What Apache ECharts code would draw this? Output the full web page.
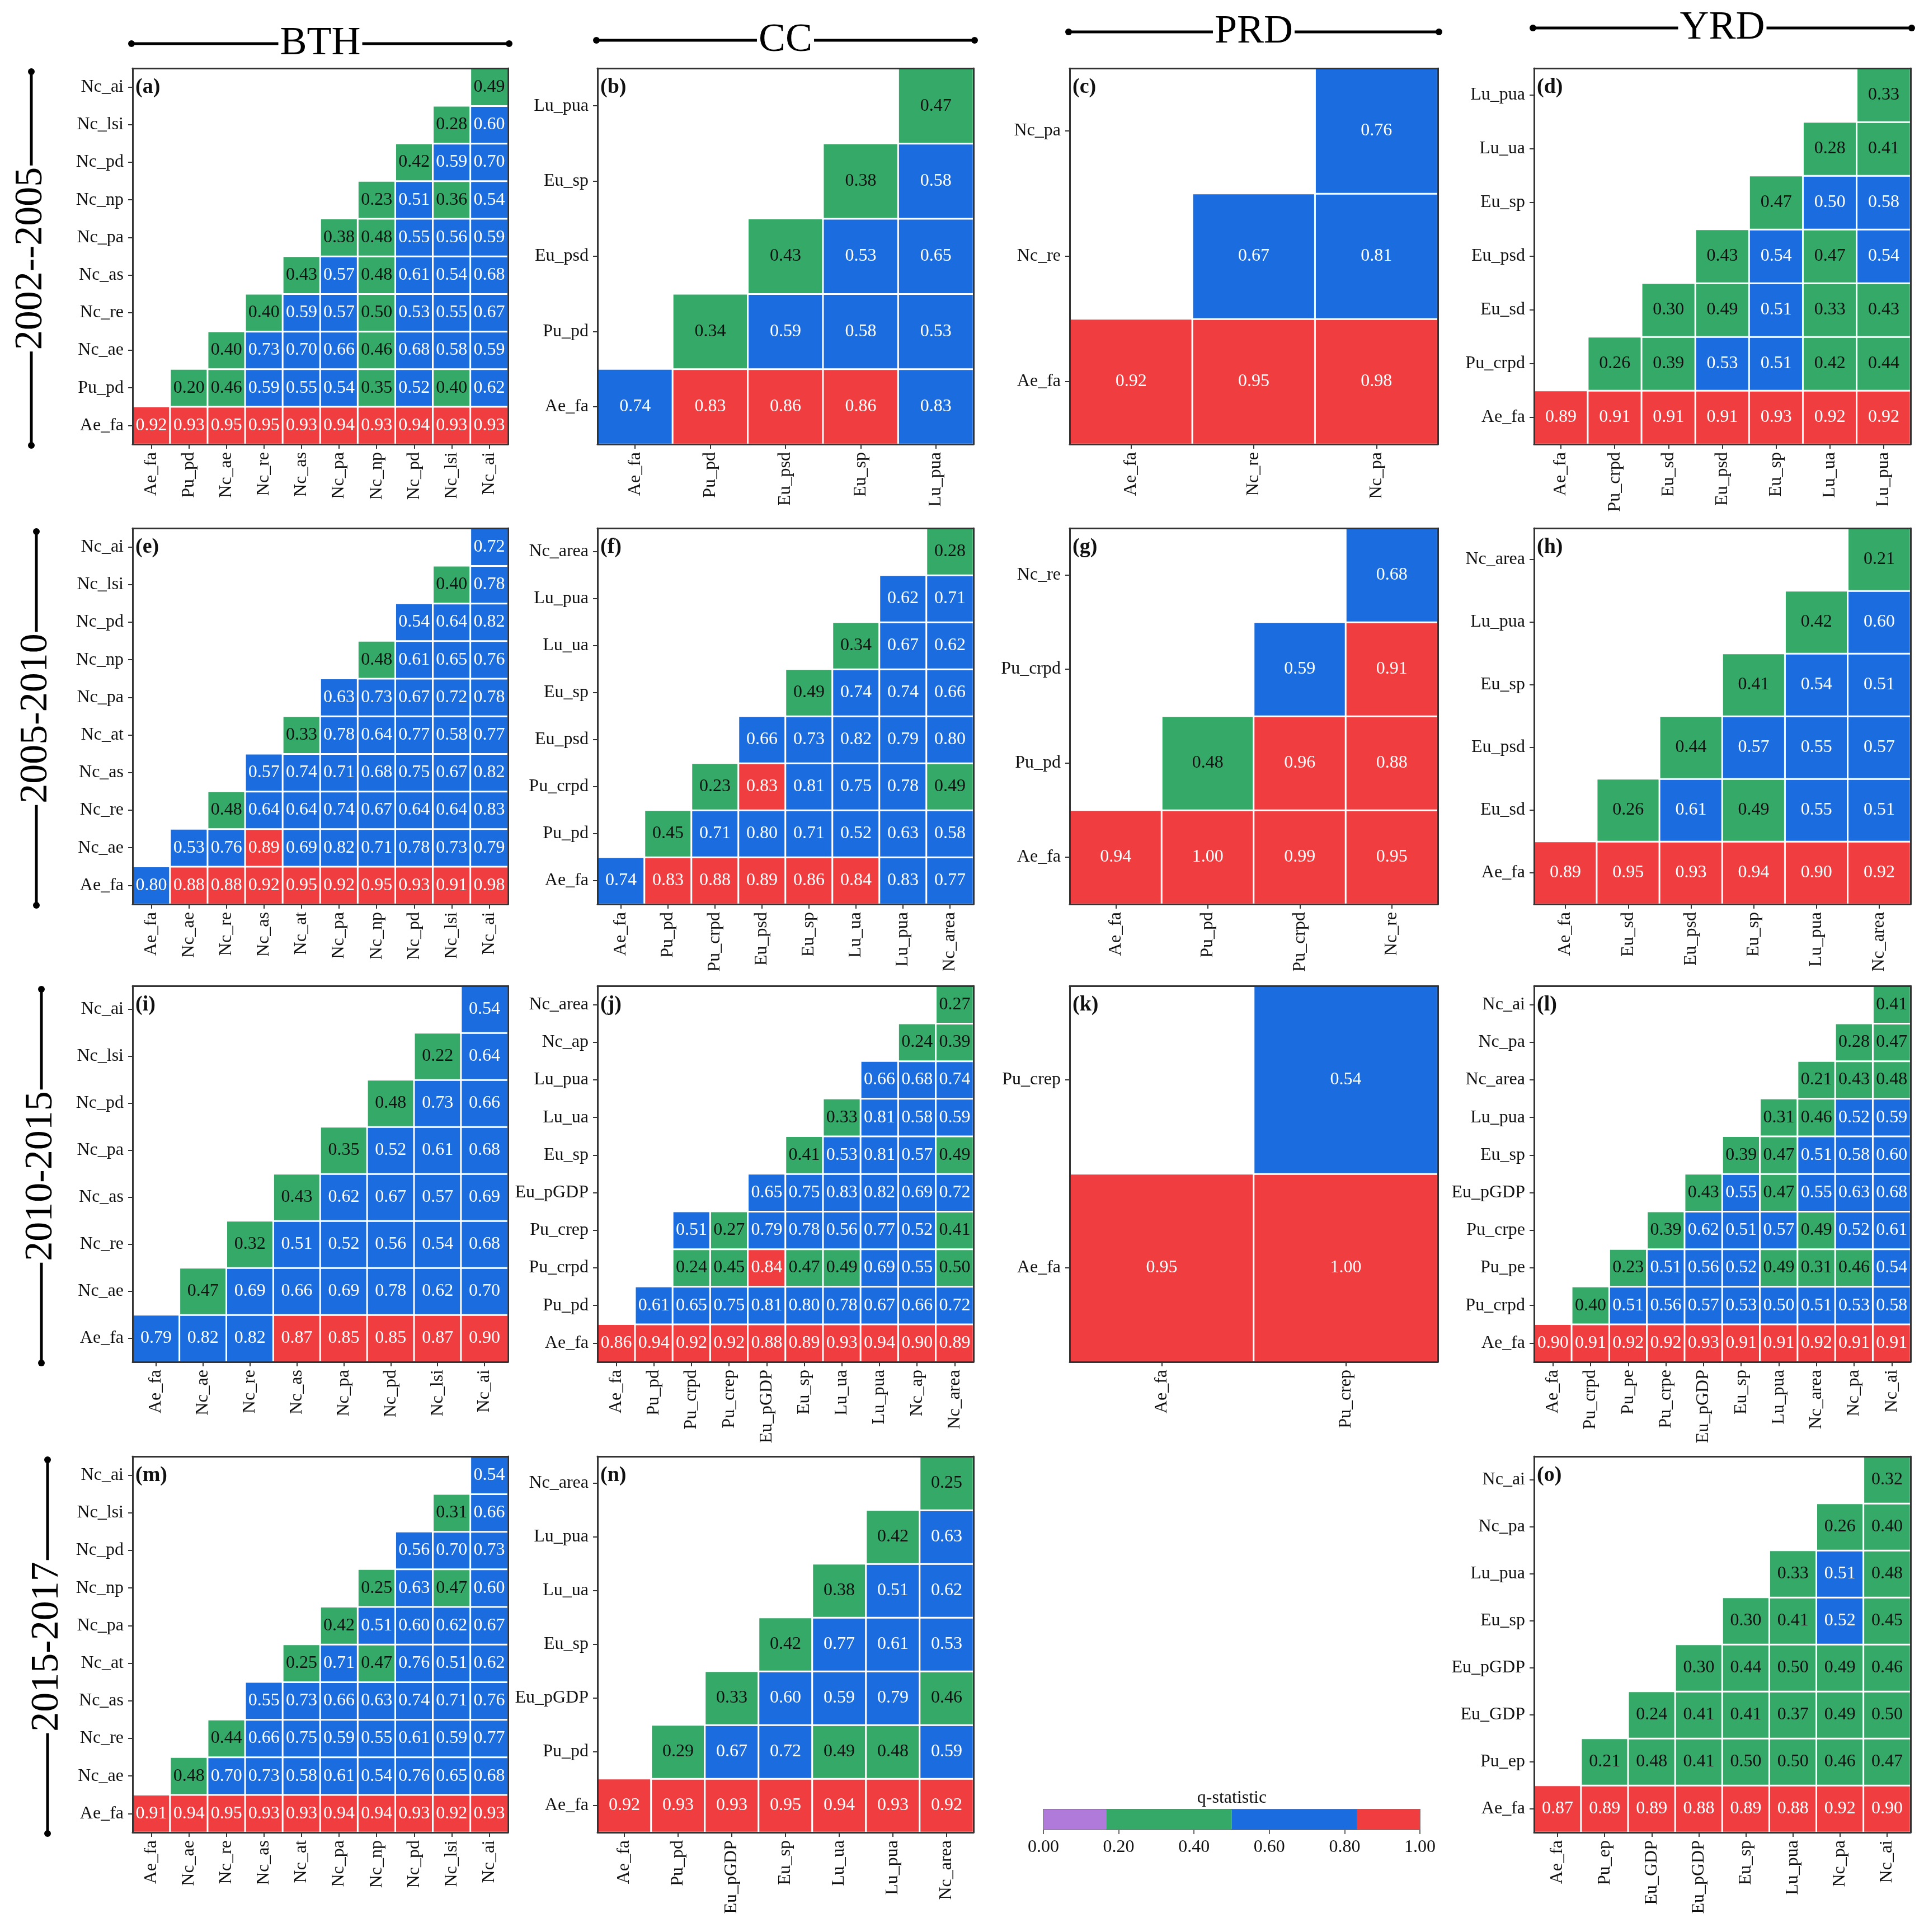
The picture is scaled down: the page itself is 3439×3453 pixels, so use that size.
<!DOCTYPE html>
<html>
<head>
<meta charset="utf-8">
<title>q-statistic interaction heatmaps</title>
<script src="https://cdn.jsdelivr.net/npm/echarts@6/dist/echarts.min.js"></script>
<style>
  html, body { margin: 0; padding: 0; background: #fff; }
  #chart { width: 3439px; height: 3453px; }
</style>
</head>
<body>
<div id="chart"></div>
<script>
var _ = null;
var FONT = '"Liberation Serif", "Times New Roman", serif';

// q-statistic classes (colour bar)
var qBreaks = [0, 1 / 6, 0.5, 5 / 6, 1];
var qColors = ['#B07ADB', '#35AA68', '#1B6DDF', '#F03D40'];

var regions = ['BTH', 'CC', 'PRD', 'YRD'];
var periods = ['2002--2005', '2005-2010', '2010-2015', '2015-2017'];

// rows listed from the bottom (Ae_fa) upwards, one value per column
var labelsA = ['Ae_fa', 'Pu_pd', 'Nc_ae', 'Nc_re', 'Nc_as', 'Nc_pa', 'Nc_np', 'Nc_pd', 'Nc_lsi', 'Nc_ai'];
var rowsA = [
    [0.92, 0.93, 0.95, 0.95, 0.93, 0.94, 0.93, 0.94, 0.93, 0.93],
    [_, 0.20, 0.46, 0.59, 0.55, 0.54, 0.35, 0.52, 0.40, 0.62],
    [_, _, 0.40, 0.73, 0.70, 0.66, 0.46, 0.68, 0.58, 0.59],
    [_, _, _, 0.40, 0.59, 0.57, 0.50, 0.53, 0.55, 0.67],
    [_, _, _, _, 0.43, 0.57, 0.48, 0.61, 0.54, 0.68],
    [_, _, _, _, _, 0.38, 0.48, 0.55, 0.56, 0.59],
    [_, _, _, _, _, _, 0.23, 0.51, 0.36, 0.54],
    [_, _, _, _, _, _, _, 0.42, 0.59, 0.70],
    [_, _, _, _, _, _, _, _, 0.28, 0.60],
    [_, _, _, _, _, _, _, _, _, 0.49]
];

var labelsB = ['Ae_fa', 'Pu_pd', 'Eu_psd', 'Eu_sp', 'Lu_pua'];
var rowsB = [
    [0.74, 0.834, 0.86, 0.86, 0.829],
    [_, 0.34, 0.59, 0.58, 0.53],
    [_, _, 0.43, 0.53, 0.65],
    [_, _, _, 0.38, 0.58],
    [_, _, _, _, 0.47]
];

var labelsC = ['Ae_fa', 'Nc_re', 'Nc_pa'];
var rowsC = [
    [0.92, 0.95, 0.98],
    [_, 0.67, 0.81],
    [_, _, 0.76]
];

var labelsD = ['Ae_fa', 'Pu_crpd', 'Eu_sd', 'Eu_psd', 'Eu_sp', 'Lu_ua', 'Lu_pua'];
var rowsD = [
    [0.89, 0.91, 0.91, 0.91, 0.93, 0.92, 0.92],
    [_, 0.26, 0.39, 0.53, 0.51, 0.42, 0.44],
    [_, _, 0.30, 0.49, 0.51, 0.33, 0.43],
    [_, _, _, 0.43, 0.54, 0.47, 0.54],
    [_, _, _, _, 0.47, 0.503, 0.58],
    [_, _, _, _, _, 0.28, 0.41],
    [_, _, _, _, _, _, 0.33]
];

var labelsE = ['Ae_fa', 'Nc_ae', 'Nc_re', 'Nc_as', 'Nc_at', 'Nc_pa', 'Nc_np', 'Nc_pd', 'Nc_lsi', 'Nc_ai'];
var rowsE = [
    [0.80, 0.88, 0.88, 0.92, 0.95, 0.92, 0.95, 0.93, 0.91, 0.98],
    [_, 0.53, 0.76, 0.89, 0.69, 0.82, 0.71, 0.78, 0.73, 0.79],
    [_, _, 0.48, 0.64, 0.64, 0.74, 0.67, 0.64, 0.64, 0.829],
    [_, _, _, 0.57, 0.74, 0.71, 0.68, 0.75, 0.67, 0.82],
    [_, _, _, _, 0.33, 0.78, 0.64, 0.77, 0.58, 0.77],
    [_, _, _, _, _, 0.63, 0.73, 0.67, 0.72, 0.78],
    [_, _, _, _, _, _, 0.48, 0.61, 0.65, 0.76],
    [_, _, _, _, _, _, _, 0.54, 0.64, 0.82],
    [_, _, _, _, _, _, _, _, 0.40, 0.78],
    [_, _, _, _, _, _, _, _, _, 0.72]
];

var labelsF = ['Ae_fa', 'Pu_pd', 'Pu_crpd', 'Eu_psd', 'Eu_sp', 'Lu_ua', 'Lu_pua', 'Nc_area'];
var rowsF = [
    [0.74, 0.834, 0.88, 0.89, 0.86, 0.84, 0.829, 0.77],
    [_, 0.45, 0.71, 0.80, 0.71, 0.52, 0.63, 0.58],
    [_, _, 0.23, 0.834, 0.81, 0.75, 0.78, 0.49],
    [_, _, _, 0.66, 0.73, 0.82, 0.79, 0.80],
    [_, _, _, _, 0.49, 0.74, 0.74, 0.66],
    [_, _, _, _, _, 0.34, 0.67, 0.62],
    [_, _, _, _, _, _, 0.62, 0.71],
    [_, _, _, _, _, _, _, 0.28]
];

var labelsG = ['Ae_fa', 'Pu_pd', 'Pu_crpd', 'Nc_re'];
var rowsG = [
    [0.94, 1.00, 0.99, 0.95],
    [_, 0.48, 0.96, 0.88],
    [_, _, 0.59, 0.91],
    [_, _, _, 0.68]
];

var labelsH = ['Ae_fa', 'Eu_sd', 'Eu_psd', 'Eu_sp', 'Lu_pua', 'Nc_area'];
var rowsH = [
    [0.89, 0.95, 0.93, 0.94, 0.90, 0.92],
    [_, 0.26, 0.61, 0.49, 0.55, 0.51],
    [_, _, 0.44, 0.57, 0.55, 0.57],
    [_, _, _, 0.41, 0.54, 0.51],
    [_, _, _, _, 0.42, 0.60],
    [_, _, _, _, _, 0.21]
];

var labelsI = ['Ae_fa', 'Nc_ae', 'Nc_re', 'Nc_as', 'Nc_pa', 'Nc_pd', 'Nc_lsi', 'Nc_ai'];
var rowsI = [
    [0.79, 0.82, 0.82, 0.87, 0.85, 0.85, 0.87, 0.90],
    [_, 0.47, 0.69, 0.66, 0.69, 0.78, 0.62, 0.70],
    [_, _, 0.32, 0.51, 0.52, 0.56, 0.54, 0.68],
    [_, _, _, 0.43, 0.62, 0.67, 0.57, 0.69],
    [_, _, _, _, 0.35, 0.52, 0.61, 0.68],
    [_, _, _, _, _, 0.48, 0.73, 0.66],
    [_, _, _, _, _, _, 0.22, 0.64],
    [_, _, _, _, _, _, _, 0.54]
];

var labelsJ = ['Ae_fa', 'Pu_pd', 'Pu_crpd', 'Pu_crep', 'Eu_pGDP', 'Eu_sp', 'Lu_ua', 'Lu_pua', 'Nc_ap', 'Nc_area'];
var rowsJ = [
    [0.86, 0.94, 0.92, 0.92, 0.88, 0.89, 0.93, 0.94, 0.90, 0.89],
    [_, 0.61, 0.65, 0.75, 0.81, 0.80, 0.78, 0.67, 0.66, 0.72],
    [_, _, 0.24, 0.45, 0.84, 0.47, 0.49, 0.69, 0.55, 0.50],
    [_, _, 0.51, 0.27, 0.79, 0.78, 0.56, 0.77, 0.52, 0.41],
    [_, _, _, _, 0.65, 0.75, 0.829, 0.82, 0.69, 0.72],
    [_, _, _, _, _, 0.41, 0.53, 0.81, 0.57, 0.49],
    [_, _, _, _, _, _, 0.33, 0.81, 0.58, 0.59],
    [_, _, _, _, _, _, _, 0.66, 0.68, 0.74],
    [_, _, _, _, _, _, _, _, 0.24, 0.39],
    [_, _, _, _, _, _, _, _, _, 0.27]
];

var labelsK = ['Ae_fa', 'Pu_crep'];
var rowsK = [
    [0.95, 1.00],
    [_, 0.54]
];

var labelsL = ['Ae_fa', 'Pu_crpd', 'Pu_pe', 'Pu_crpe', 'Eu_pGDP', 'Eu_sp', 'Lu_pua', 'Nc_area', 'Nc_pa', 'Nc_ai'];
var rowsL = [
    [0.90, 0.91, 0.92, 0.92, 0.93, 0.91, 0.91, 0.92, 0.91, 0.91],
    [_, 0.40, 0.51, 0.56, 0.57, 0.53, 0.503, 0.51, 0.53, 0.58],
    [_, _, 0.23, 0.51, 0.56, 0.52, 0.49, 0.31, 0.46, 0.54],
    [_, _, _, 0.39, 0.62, 0.51, 0.57, 0.49, 0.52, 0.61],
    [_, _, _, _, 0.43, 0.55, 0.47, 0.55, 0.63, 0.68],
    [_, _, _, _, _, 0.39, 0.47, 0.51, 0.58, 0.60],
    [_, _, _, _, _, _, 0.31, 0.46, 0.52, 0.59],
    [_, _, _, _, _, _, _, 0.21, 0.43, 0.48],
    [_, _, _, _, _, _, _, _, 0.28, 0.47],
    [_, _, _, _, _, _, _, _, _, 0.41]
];

var labelsM = ['Ae_fa', 'Nc_ae', 'Nc_re', 'Nc_as', 'Nc_at', 'Nc_pa', 'Nc_np', 'Nc_pd', 'Nc_lsi', 'Nc_ai'];
var rowsM = [
    [0.91, 0.94, 0.95, 0.93, 0.93, 0.94, 0.94, 0.93, 0.92, 0.93],
    [_, 0.48, 0.70, 0.73, 0.58, 0.61, 0.54, 0.76, 0.65, 0.68],
    [_, _, 0.44, 0.66, 0.75, 0.59, 0.55, 0.61, 0.59, 0.77],
    [_, _, _, 0.55, 0.73, 0.66, 0.63, 0.74, 0.71, 0.76],
    [_, _, _, _, 0.25, 0.71, 0.47, 0.76, 0.51, 0.62],
    [_, _, _, _, _, 0.42, 0.51, 0.60, 0.62, 0.67],
    [_, _, _, _, _, _, 0.25, 0.63, 0.47, 0.60],
    [_, _, _, _, _, _, _, 0.56, 0.70, 0.73],
    [_, _, _, _, _, _, _, _, 0.31, 0.66],
    [_, _, _, _, _, _, _, _, _, 0.54]
];

var labelsN = ['Ae_fa', 'Pu_pd', 'Eu_pGDP', 'Eu_sp', 'Lu_ua', 'Lu_pua', 'Nc_area'];
var rowsN = [
    [0.92, 0.93, 0.93, 0.95, 0.94, 0.93, 0.92],
    [_, 0.29, 0.67, 0.72, 0.49, 0.48, 0.59],
    [_, _, 0.33, 0.60, 0.59, 0.79, 0.46],
    [_, _, _, 0.42, 0.77, 0.61, 0.53],
    [_, _, _, _, 0.38, 0.51, 0.62],
    [_, _, _, _, _, 0.42, 0.63],
    [_, _, _, _, _, _, 0.25]
];

var labelsO = ['Ae_fa', 'Pu_ep', 'Eu_GDP', 'Eu_pGDP', 'Eu_sp', 'Lu_pua', 'Nc_pa', 'Nc_ai'];
var rowsO = [
    [0.87, 0.89, 0.89, 0.88, 0.89, 0.88, 0.92, 0.90],
    [_, 0.21, 0.48, 0.41, 0.50, 0.50, 0.46, 0.47],
    [_, _, 0.24, 0.41, 0.41, 0.37, 0.49, 0.50],
    [_, _, _, 0.30, 0.44, 0.50, 0.49, 0.46],
    [_, _, _, _, 0.30, 0.41, 0.52, 0.45],
    [_, _, _, _, _, 0.33, 0.51, 0.48],
    [_, _, _, _, _, _, 0.26, 0.40],
    [_, _, _, _, _, _, _, 0.32]
];

// page layout (pixels)
var colLeft = [237, 1068, 1912, 2742];
var colWidth = [671, 672, 658, 673];
var rowTop = [122, 944, 1762, 2603];
var rowHeight = 672;

var panels = [
    { tag: '(a)', labels: labelsA, rows: rowsA, col: 0, row: 0 },
    { tag: '(b)', labels: labelsB, rows: rowsB, col: 1, row: 0 },
    { tag: '(c)', labels: labelsC, rows: rowsC, col: 2, row: 0 },
    { tag: '(d)', labels: labelsD, rows: rowsD, col: 3, row: 0 },
    { tag: '(e)', labels: labelsE, rows: rowsE, col: 0, row: 1 },
    { tag: '(f)', labels: labelsF, rows: rowsF, col: 1, row: 1 },
    { tag: '(g)', labels: labelsG, rows: rowsG, col: 2, row: 1 },
    { tag: '(h)', labels: labelsH, rows: rowsH, col: 3, row: 1 },
    { tag: '(i)', labels: labelsI, rows: rowsI, col: 0, row: 2 },
    { tag: '(j)', labels: labelsJ, rows: rowsJ, col: 1, row: 2 },
    { tag: '(k)', labels: labelsK, rows: rowsK, col: 2, row: 2 },
    { tag: '(l)', labels: labelsL, rows: rowsL, col: 3, row: 2 },
    { tag: '(m)', labels: labelsM, rows: rowsM, col: 0, row: 3 },
    { tag: '(n)', labels: labelsN, rows: rowsN, col: 1, row: 3 },
    { tag: '(o)', labels: labelsO, rows: rowsO, col: 3, row: 3 }
];

var chart = echarts.init(document.getElementById('chart'), null, { renderer: 'canvas' });

var grids = [], xAxes = [], yAxes = [], series = [], graphics = [];
var frameLine = { show: true, onZero: false, lineStyle: { color: '#333', width: 3 } };

panels.forEach(function (p, i) {
    var L = colLeft[p.col], T = rowTop[p.row];
    grids.push({ left: L, top: T, width: colWidth[p.col], height: rowHeight, containLabel: false });

    // bottom / left axes carry labels, top / right only close the frame
    xAxes.push({
        type: 'category', gridIndex: i, data: p.labels, position: 'bottom', z: 5,
        axisLine: frameLine,
        axisTick: { show: true, alignWithLabel: true, length: 8, lineStyle: { color: '#333', width: 2 } },
        axisLabel: { interval: 0, rotate: 90, margin: 14, fontSize: 32, fontFamily: FONT, color: '#111' },
        splitLine: { show: false }
    });
    xAxes.push({
        type: 'category', gridIndex: i, data: p.labels, position: 'top', z: 5,
        axisLine: frameLine, axisTick: { show: false }, axisLabel: { show: false }
    });
    yAxes.push({
        type: 'category', gridIndex: i, data: p.labels, position: 'left', z: 5,
        axisLine: frameLine,
        axisTick: { show: true, alignWithLabel: true, length: 8, lineStyle: { color: '#333', width: 2 } },
        axisLabel: { interval: 0, margin: 16, fontSize: 32, fontFamily: FONT, color: '#111' },
        splitLine: { show: false }
    });
    yAxes.push({
        type: 'category', gridIndex: i, data: p.labels, position: 'right', z: 5,
        axisLine: frameLine, axisTick: { show: false }, axisLabel: { show: false }
    });

    var cells = [];
    p.rows.forEach(function (vals, r) {
        vals.forEach(function (v, c) {
            if (v !== null) cells.push([c, r, v]);
        });
    });

    series.push({
        type: 'heatmap',
        xAxisIndex: 2 * i,
        yAxisIndex: 2 * i,
        data: cells,
        itemStyle: { borderColor: '#fff', borderWidth: 3 },
        emphasis: { disabled: true },
        label: {
            show: true,
            formatter: function (d) {
                var v = d.value[2];
                return (v <= 0.5 ? '{k|' : '{w|') + v.toFixed(2) + '}';
            },
            rich: {
                k: { color: '#111', fontSize: 32, fontFamily: FONT },
                w: { color: '#fff', fontSize: 32, fontFamily: FONT }
            }
        }
    });

    graphics.push({
        type: 'text', x: L + 5, y: T + 34, z: 10,
        style: { text: p.tag, fontSize: 38, fontWeight: 'bold', fontFamily: FONT, fill: '#111', align: 'left', verticalAlign: 'middle' }
    });
});

// colour bar
var cbIndex = panels.length;
grids.push({ left: 1865, top: 3234, width: 673, height: 36, show: true, borderColor: '#777', borderWidth: 2 });
xAxes.push({
    type: 'value', gridIndex: cbIndex, min: 0, max: 1, interval: 0.2,
    axisLine: { show: false },
    axisTick: { show: true, length: 8, lineStyle: { color: '#666', width: 2 } },
    axisLabel: { margin: 16, fontSize: 32, fontFamily: FONT, color: '#111', formatter: function (v) { return v.toFixed(2); } },
    splitLine: { show: false }
});
yAxes.push({ type: 'category', gridIndex: cbIndex, data: ['q'], show: false });
qColors.forEach(function (col, k) {
    series.push({
        type: 'bar', xAxisIndex: xAxes.length - 1, yAxisIndex: yAxes.length - 1,
        stack: 'q', barWidth: '100%', silent: true,
        data: [qBreaks[k + 1] - qBreaks[k]],
        itemStyle: { color: col }
    });
});
graphics.push({
    type: 'text', x: 2202, y: 3214,
    style: { text: 'q-statistic', fontSize: 32, fontFamily: FONT, fill: '#111', align: 'center', verticalAlign: 'middle' }
});

// region headers with double arrows
var headerY = [78, 72, 57, 50];
regions.forEach(function (name, k) {
    var x1 = colLeft[k] - 2, x2 = colLeft[k] + colWidth[k] + 2, y = headerY[k];
    graphics.push({ type: 'line', shape: { x1: x1, y1: y, x2: x2, y2: y }, style: { stroke: '#000', lineWidth: 5 } });
    graphics.push({ type: 'circle', shape: { cx: x1, cy: y, r: 6 }, style: { fill: '#000' } });
    graphics.push({ type: 'circle', shape: { cx: x2, cy: y, r: 6 }, style: { fill: '#000' } });
    graphics.push({
        type: 'text', x: (x1 + x2) / 2, y: y, z: 10,
        style: { text: name, fontSize: 72, fontFamily: FONT, fill: '#000', align: 'center', verticalAlign: 'middle', backgroundColor: '#fff', padding: [0, 3] }
    });
});

// period labels, vertical with double arrows
var periodX = [56, 65, 74, 85];
periods.forEach(function (name, k) {
    var x = periodX[k], y1 = rowTop[k] + 6, y2 = rowTop[k] + rowHeight + 2;
    graphics.push({ type: 'line', shape: { x1: x, y1: y1, x2: x, y2: y2 }, style: { stroke: '#000', lineWidth: 5 } });
    graphics.push({ type: 'circle', shape: { cx: x, cy: y1, r: 6 }, style: { fill: '#000' } });
    graphics.push({ type: 'circle', shape: { cx: x, cy: y2, r: 6 }, style: { fill: '#000' } });
    graphics.push({
        type: 'text', x: x, y: (y1 + y2) / 2, rotation: Math.PI / 2, z: 10,
        style: { text: name, fontSize: 70, fontFamily: FONT, fill: '#000', align: 'center', verticalAlign: 'middle', backgroundColor: '#fff', padding: [0, 3] }
    });
});

var option = {
    backgroundColor: '#fff',
    animation: false,
    grid: grids,
    xAxis: xAxes,
    yAxis: yAxes,
    visualMap: {
        type: 'piecewise',
        show: false,
        dimension: 2,
        seriesIndex: panels.map(function (p, i) { return i; }),
        pieces: qColors.map(function (col, k) {
            var piece = { lte: qBreaks[k + 1], color: col };
            if (k === 0) piece.gte = qBreaks[k]; else piece.gt = qBreaks[k];
            return piece;
        })
    },
    series: series,
    graphic: { elements: graphics }
};

chart.setOption(option);
</script>
</body>
</html>
